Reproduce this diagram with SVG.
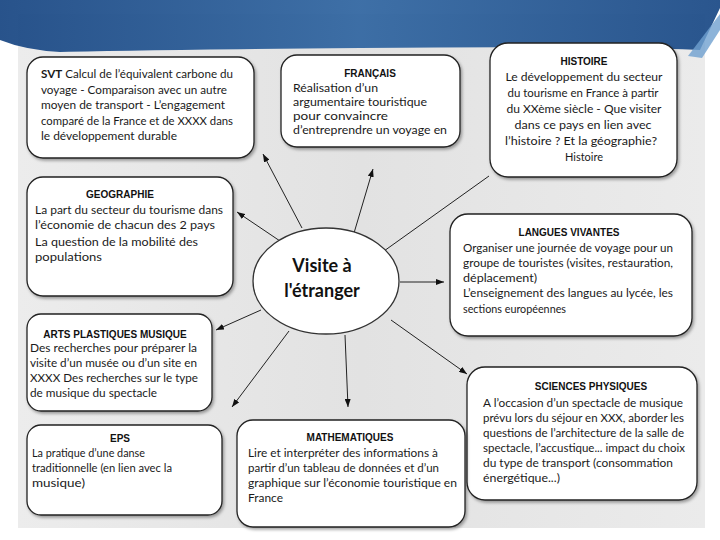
<svg xmlns="http://www.w3.org/2000/svg" width="720" height="540" viewBox="0 0 720 540">
<defs>
<linearGradient id="panel" x1="0" y1="0" x2="1" y2="0">
<stop offset="0" stop-color="#ececec"/><stop offset="0.5" stop-color="#e2e2e2"/><stop offset="1" stop-color="#ebebeb"/>
</linearGradient>
<linearGradient id="blue" x1="0" y1="0" x2="1" y2="0">
<stop offset="0" stop-color="#1d4a85"/><stop offset="0.5" stop-color="#3468a2"/><stop offset="1" stop-color="#1f4d88"/>
</linearGradient>
<filter id="sh" x="-10%" y="-10%" width="125%" height="125%">
<feDropShadow dx="1.5" dy="2" stdDeviation="1.5" flood-color="#000" flood-opacity="0.35"/>
</filter>
<marker id="ah" viewBox="0 0 8 6" refX="8" refY="3" markerWidth="8" markerHeight="6" markerUnits="userSpaceOnUse" orient="auto">
<path d="M0,0 L8,3 L0,6 z" fill="#111"/>
</marker>
<style>
.box{fill:#fff;stroke:#222;stroke-width:1.3;filter:url(#sh)}
.t{font-family:Lato,"Liberation Sans",Arial,sans-serif;font-size:11.5px;fill:#1a1a1a}
.h{font-family:"Liberation Sans",Arial,sans-serif;font-size:10px;font-weight:bold;fill:#111;text-anchor:middle}
.c{text-anchor:middle}
.con line{stroke:#222;stroke-width:1;marker-end:url(#ah)}
</style>
</defs>
<rect width="720" height="540" fill="#fff"/>
<rect x="18" y="14" width="687" height="514" fill="url(#panel)"/>
<path d="M0,0 H720 V8 L700,50 Q600,46 360,48 Q150,50 60,52 Q25,50 0,40 Z" fill="url(#blue)" opacity="0.95"/>
<path d="M688,56 L720,14 V30 L702,58 Z" fill="#6fa0d0" opacity="0.8"/>

<g class="con">
<line x1="302" y1="228" x2="263" y2="154"/>
<line x1="354" y1="233" x2="373" y2="169"/>
<line x1="384" y1="251" x2="489" y2="176" style="marker-end:none"/>
<line x1="280" y1="241" x2="237" y2="212"/>
<line x1="400" y1="282" x2="444" y2="282"/>
<line x1="261" y1="310" x2="216" y2="330"/>
<line x1="289" y1="331" x2="232" y2="407"/>
<line x1="345" y1="335" x2="348" y2="407"/>
<line x1="391" y1="320" x2="467" y2="374"/>
</g>

<g id="center">
<ellipse cx="326" cy="281" rx="73" ry="53" fill="#fff" stroke="#333" stroke-width="1.3"/>
<text x="322" y="272" class="c" style="font-family:Lato,'Liberation Sans',Arial,sans-serif;font-size:18px;font-weight:bold;fill:#111">Visite à</text>
<text x="322" y="297" class="c" style="font-family:Lato,'Liberation Sans',Arial,sans-serif;font-size:18px;font-weight:bold;fill:#111">l'étranger</text>
</g>

<g id="svt">
<rect class="box" x="27" y="57" width="227" height="101" rx="16"/>
<text class="t" x="41" y="78" textLength="192" lengthAdjust="spacingAndGlyphs"><tspan font-weight="bold">SVT</tspan> Calcul de l’équivalent carbone du</text>
<text class="t" x="41" y="93.5" textLength="186" lengthAdjust="spacingAndGlyphs">voyage  - Comparaison avec un autre</text>
<text class="t" x="41" y="109" textLength="184" lengthAdjust="spacingAndGlyphs">moyen de transport - L’engagement</text>
<text class="t" x="41" y="124.5" textLength="192" lengthAdjust="spacingAndGlyphs">comparé de la France et de XXXX dans</text>
<text class="t" x="41" y="140" textLength="136" lengthAdjust="spacingAndGlyphs">le développement durable</text>
</g>

<g id="francais">
<rect class="box" x="281" y="55" width="179" height="92" rx="16"/>
<text class="h" x="370" y="77">FRANÇAIS</text>
<text class="t" x="293" y="92" textLength="85" lengthAdjust="spacingAndGlyphs">Réalisation d’un</text>
<text class="t" x="293" y="106" textLength="134" lengthAdjust="spacingAndGlyphs">argumentaire touristique</text>
<text class="t" x="293" y="120" textLength="95" lengthAdjust="spacingAndGlyphs">pour convaincre</text>
<text class="t" x="293" y="134" textLength="154" lengthAdjust="spacingAndGlyphs">d’entreprendre un voyage en</text>
</g>

<g id="histoire">
<rect class="box" x="490" y="43" width="187" height="134" rx="18"/>
<text class="h" x="584" y="65">HISTOIRE</text>
<text class="t c" x="584" y="81" textLength="157" lengthAdjust="spacingAndGlyphs">Le développement du secteur</text>
<text class="t c" x="583" y="97" textLength="151" lengthAdjust="spacingAndGlyphs">du tourisme en France à partir</text>
<text class="t c" x="584" y="113" textLength="155" lengthAdjust="spacingAndGlyphs">du XXème siècle - Que visiter</text>
<text class="t c" x="583" y="129" textLength="137" lengthAdjust="spacingAndGlyphs">dans ce pays en lien avec</text>
<text class="t c" x="581" y="145" textLength="152" lengthAdjust="spacingAndGlyphs">l’histoire ? Et la géographie?</text>
<text class="t c" x="584" y="161" textLength="38" lengthAdjust="spacingAndGlyphs">Histoire</text>
</g>

<g id="geographie">
<rect class="box" x="27" y="177" width="206" height="119" rx="16"/>
<text class="h" x="120" y="198">GEOGRAPHIE</text>
<text class="t" x="35" y="214" textLength="188" lengthAdjust="spacingAndGlyphs">La part du secteur du tourisme dans</text>
<text class="t" x="35" y="229" textLength="180" lengthAdjust="spacingAndGlyphs">l’économie de chacun des 2 pays</text>
<text class="t" x="35" y="246" textLength="163" lengthAdjust="spacingAndGlyphs">La question de la mobilité des</text>
<text class="t" x="35" y="261" textLength="67" lengthAdjust="spacingAndGlyphs">populations</text>
</g>

<g id="langues">
<rect class="box" x="450" y="214" width="242" height="122" rx="18"/>
<text class="h" x="569" y="236">LANGUES VIVANTES</text>
<text class="t" x="463" y="252" textLength="210" lengthAdjust="spacingAndGlyphs">Organiser une journée de voyage pour un</text>
<text class="t" x="463" y="267" textLength="210" lengthAdjust="spacingAndGlyphs">groupe de touristes (visites, restauration,</text>
<text class="t" x="463" y="282" textLength="74" lengthAdjust="spacingAndGlyphs">déplacement)</text>
<text class="t" x="463" y="297" textLength="210" lengthAdjust="spacingAndGlyphs">L’enseignement des langues au lycée, les</text>
<text class="t" x="463" y="313" textLength="103" lengthAdjust="spacingAndGlyphs">sections européennes</text>
</g>

<g id="arts">
<rect class="box" x="27" y="314" width="185" height="97" rx="14"/>
<text class="h" x="115" y="338">ARTS PLASTIQUES MUSIQUE</text>
<text class="t" x="30" y="352" textLength="167" lengthAdjust="spacingAndGlyphs">Des recherches pour préparer la</text>
<text class="t" x="30" y="367" textLength="167" lengthAdjust="spacingAndGlyphs">visite d’un musée ou d’un site en</text>
<text class="t" x="30" y="382" textLength="168" lengthAdjust="spacingAndGlyphs">XXXX Des recherches sur le type</text>
<text class="t" x="30" y="397" textLength="127" lengthAdjust="spacingAndGlyphs">de musique du spectacle</text>
</g>

<g id="sciences">
<rect class="box" x="467" y="367" width="230" height="133" rx="18"/>
<text class="h" x="591" y="390">SCIENCES PHYSIQUES</text>
<text class="t" x="483" y="407" textLength="200" lengthAdjust="spacingAndGlyphs">A l’occasion d’un spectacle de musique</text>
<text class="t" x="483" y="422" textLength="201" lengthAdjust="spacingAndGlyphs">prévu lors du séjour en XXX, aborder les</text>
<text class="t" x="483" y="437" textLength="201" lengthAdjust="spacingAndGlyphs">questions de l’architecture de la salle de</text>
<text class="t" x="483" y="452" textLength="202" lengthAdjust="spacingAndGlyphs">spectacle, l’accustique... impact du choix</text>
<text class="t" x="483" y="467" textLength="190" lengthAdjust="spacingAndGlyphs">du type de transport (consommation</text>
<text class="t" x="483" y="482" textLength="77" lengthAdjust="spacingAndGlyphs">énergétique...)</text>
</g>

<g id="eps">
<rect class="box" x="27" y="425" width="195" height="90" rx="14"/>
<text class="h" x="120" y="442">EPS</text>
<text class="t" x="32" y="457" textLength="113" lengthAdjust="spacingAndGlyphs">La pratique d’une danse</text>
<text class="t" x="32" y="472" textLength="140" lengthAdjust="spacingAndGlyphs">traditionnelle (en lien avec la</text>
<text class="t" x="32" y="487" textLength="53" lengthAdjust="spacingAndGlyphs">musique)</text>
</g>

<g id="maths">
<rect class="box" x="237" y="420" width="228" height="107" rx="16"/>
<text class="h" x="350" y="441">MATHEMATIQUES</text>
<text class="t" x="248" y="457" textLength="190" lengthAdjust="spacingAndGlyphs">Lire et interpréter des informations à</text>
<text class="t" x="248" y="472" textLength="191" lengthAdjust="spacingAndGlyphs">partir d’un tableau de données et d’un</text>
<text class="t" x="248" y="487" textLength="209" lengthAdjust="spacingAndGlyphs">graphique sur l’économie touristique en</text>
<text class="t" x="248" y="502" textLength="35" lengthAdjust="spacingAndGlyphs">France</text>
</g>
</svg>
